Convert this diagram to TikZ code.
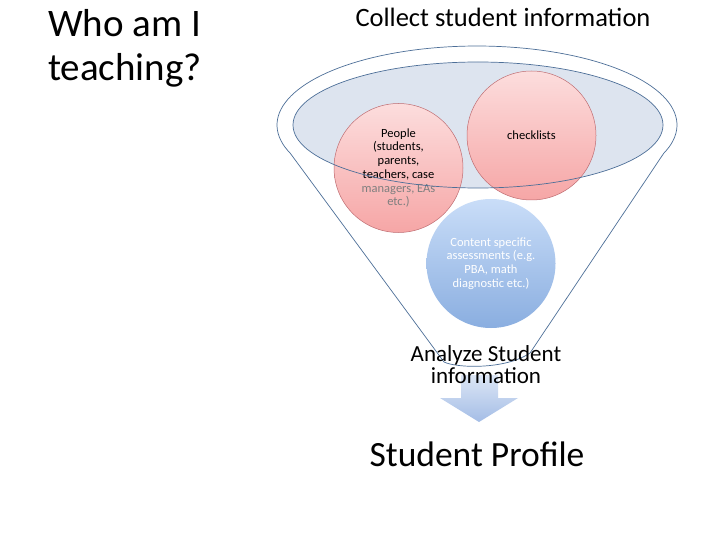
\documentclass[tikz,border=0pt]{standalone}
\usepackage{fontspec}
\setmainfont{Carlito}
\definecolor{pinktop}{HTML}{FCDDDD}
\definecolor{pinkbot}{HTML}{F6A6A6}
\definecolor{pinkedge}{HTML}{BF6D72}
\definecolor{bluetop}{HTML}{C9DDF8}
\definecolor{bluebot}{HTML}{8AAEE0}
\definecolor{ellfill}{HTML}{DDE4EF}
\definecolor{fline}{HTML}{4D6F98}
\definecolor{arrtop}{HTML}{DCE6F5}
\definecolor{arrbot}{HTML}{A4BDE6}
\definecolor{txtgray}{HTML}{7F7F7F}
\begin{document}
\begin{tikzpicture}[x=1pt,y=-1pt,
  funnelline/.style={draw=fline, line width=0.7pt},
  ball/.style={circle, minimum size=129pt, inner sep=0pt, align=center,
    font=\fontsize{12.5}{13.7}\selectfont},
  pinkball/.style={ball, draw=pinkedge, line width=0.5pt, top color=pinktop, bottom color=pinkbot},
  blueball/.style={ball, top color=bluetop, bottom color=bluebot, text=white},
  heading/.style={inner sep=0pt, anchor=base}
]
\useasboundingbox (0,0) rectangle (720,540);
\fill[white] (0,0) rectangle (720,540);

% inner ellipse fill
\fill[ellfill] (478,125) ellipse [x radius=185, y radius=63];

% circles
\node[pinkball] (people) at (398.5,168) {People\\(students,\\parents,\\teachers, case\\\textcolor{txtgray}{managers, EAs}\\\textcolor{txtgray}{etc.)}};
\node[pinkball] (check) at (531.5,135.5) {checklists};
\node[blueball] (content) at (491,263.5) {Content specific\\assessments (e.g.\\PBA, math\\diagnostic etc.)};

% inner ellipse border
\draw[funnelline] (478,125) ellipse [x radius=185, y radius=63];

% funnel outline
\draw[funnelline] plot[domain=201:-21, samples=90] ({477+200*cos(\x)},{125-79*sin(\x)})
  -- (530,353) .. controls (505,370) and (456,368) .. (444,362) -- cycle;

% arrow
\shade[top color=arrtop, bottom color=arrbot] (461,375) -- (498,375) -- (498,398) -- (518,398)
  -- (479,422) -- (440,398) -- (461,398) -- cycle;

% texts
\node[heading, anchor=base west, align=left, font=\fontsize{39}{44}\selectfont] (who) at (48,81) {Who am I\\teaching?};
\node[heading, font=\fontsize{26.5}{32}\selectfont] (collect) at (503,27) {Collect student information};
\node[heading, align=center, font=\fontsize{23}{21.5}\selectfont] (analyze) at (486,383) {Analyze Student\\information};
\node[heading, font=\fontsize{35.5}{42}\selectfont] (profile) at (477,466.7) {Student Profile};
\end{tikzpicture}
\end{document}
